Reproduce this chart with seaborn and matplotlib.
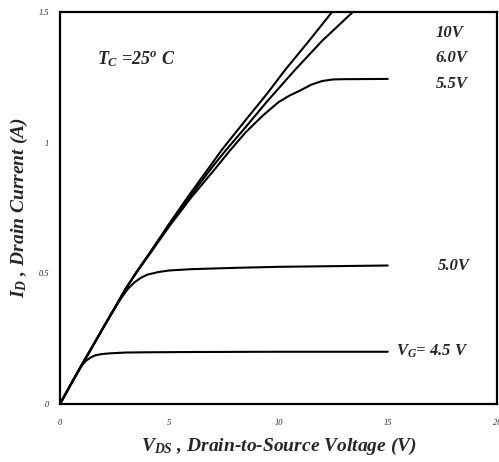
import matplotlib
matplotlib.use('Agg')
import matplotlib.pyplot as plt
import seaborn as sns
import pandas as pd

# Output characteristics
vds_10 = [0, 0.5, 1, 1.5, 2, 2.5, 3, 3.5, 4.2, 5, 6, 7, 7.4, 8.5, 9.5, 10.3, 11.4, 12.45, 13]
id_10 = [0, 0.076, 0.15, 0.222, 0.295, 0.367, 0.44, 0.505, 0.59, 0.69, 0.81, 0.925, 0.972,
         1.087, 1.19, 1.278, 1.39, 1.5, 1.55]

vds_60 = [0, 0.5, 1, 1.5, 2, 2.5, 3, 3.5, 4.2, 5, 6, 7, 7.6, 8.5, 9.5, 10.75, 12, 13.4, 14]
id_60 = [0, 0.076, 0.15, 0.222, 0.295, 0.367, 0.44, 0.504, 0.588, 0.685, 0.80, 0.91, 0.972,
         1.06, 1.16, 1.278, 1.39, 1.5, 1.55]

vds_55 = [0, 0.5, 1, 1.5, 2, 2.5, 3, 3.5, 4.2, 5, 6, 7, 7.78, 8.5, 9.3, 10, 10.5, 11, 11.5,
          12, 12.5, 13, 15]
id_55 = [0, 0.076, 0.15, 0.222, 0.295, 0.367, 0.44, 0.503, 0.585, 0.68, 0.79, 0.89, 0.97,
         1.04, 1.105, 1.155, 1.18, 1.20, 1.222, 1.236, 1.242, 1.243, 1.244]

vds_50 = [0, 0.5, 1, 1.5, 2, 2.5, 2.8, 3.1, 3.4, 3.7, 4.0, 4.5, 5, 6, 8, 10, 15]
id_50 = [0, 0.076, 0.15, 0.222, 0.295, 0.365, 0.405, 0.44, 0.465, 0.483, 0.495, 0.505,
         0.511, 0.516, 0.521, 0.525, 0.53]

vds_45 = [0, 0.5, 1, 1.2, 1.4, 1.6, 1.9, 2.3, 3, 4, 6, 10, 15]
id_45 = [0, 0.075, 0.148, 0.166, 0.178, 0.186, 0.191, 0.194, 0.197, 0.198, 0.199, 0.2, 0.2]

curves = [('10V', vds_10, id_10), ('6.0V', vds_60, id_60), ('5.5V', vds_55, id_55),
          ('5.0V', vds_50, id_50), ('4.5V', vds_45, id_45)]
frames = []
for name, v, i in curves:
    frames.append(pd.DataFrame({'Vds': v, 'Id': i, 'Vg': name}))
data = pd.concat(frames, ignore_index=True)

sns.set_style('white')
plt.rcParams['font.family'] = ['Liberation Serif', 'DejaVu Serif']
plt.rcParams['mathtext.fontset'] = 'custom'
plt.rcParams['mathtext.it'] = 'Liberation Serif:italic:bold'
plt.rcParams['mathtext.rm'] = 'Liberation Serif:italic:bold'
plt.rcParams['mathtext.bf'] = 'Liberation Serif:italic:bold'

fig = plt.figure(figsize=(4.99, 4.62), dpi=100)
ax = fig.add_axes([0.1202, 0.1255, 0.8758, 0.8485])

sns.lineplot(data=data, x='Vds', y='Id', units='Vg', estimator=None, sort=False,
             color='black', linewidth=1.5, ax=ax, legend=False)

ax.set_xlim(0, 20)
ax.set_ylim(0, 1.5)
ax.set_xticks([0, 5, 10, 15, 20])
ax.set_xticklabels(['0', '5', '10', '15', '20'])
ax.set_yticks([0, 0.5, 1, 1.5])
ax.set_yticklabels(['0', '0.5', '1', '1.5'])
ax.tick_params(direction='in', length=3, width=0.8, labelsize=6)
ax.tick_params(axis='x', pad=11)
ax.tick_params(axis='y', pad=8)
for lbl in ax.get_xticklabels() + ax.get_yticklabels():
    lbl.set_style('italic')
for s in ax.spines.values():
    s.set_linewidth(1.6)
    s.set_color('black')

lab = dict(fontsize=14, fontweight='bold', style='italic')
ax.set_xlabel(r'$V_{DS}$ , Drain-to-Source Voltage (V)', labelpad=6, **lab)
ax.set_ylabel(r'$I_{D}$ , Drain Current (A)', labelpad=6, **lab)

txt = dict(fontsize=12, fontweight='bold', style='italic', va='center')
ax.text(1.7, 1.32, r'$T_{C}$ =25$^{o}$ C', fontsize=13, fontweight='bold',
        style='italic', va='center')
ax.text(17.2, 1.42, '10V', **txt)
ax.text(17.2, 1.325, '6.0V', **txt)
ax.text(17.2, 1.225, '5.5V', **txt)
ax.text(17.3, 0.528, '5.0V', **txt)
ax.text(15.4, 0.2, r'$V_{G}$= 4.5 V', **txt)

fig.savefig('out.png', dpi=100)
